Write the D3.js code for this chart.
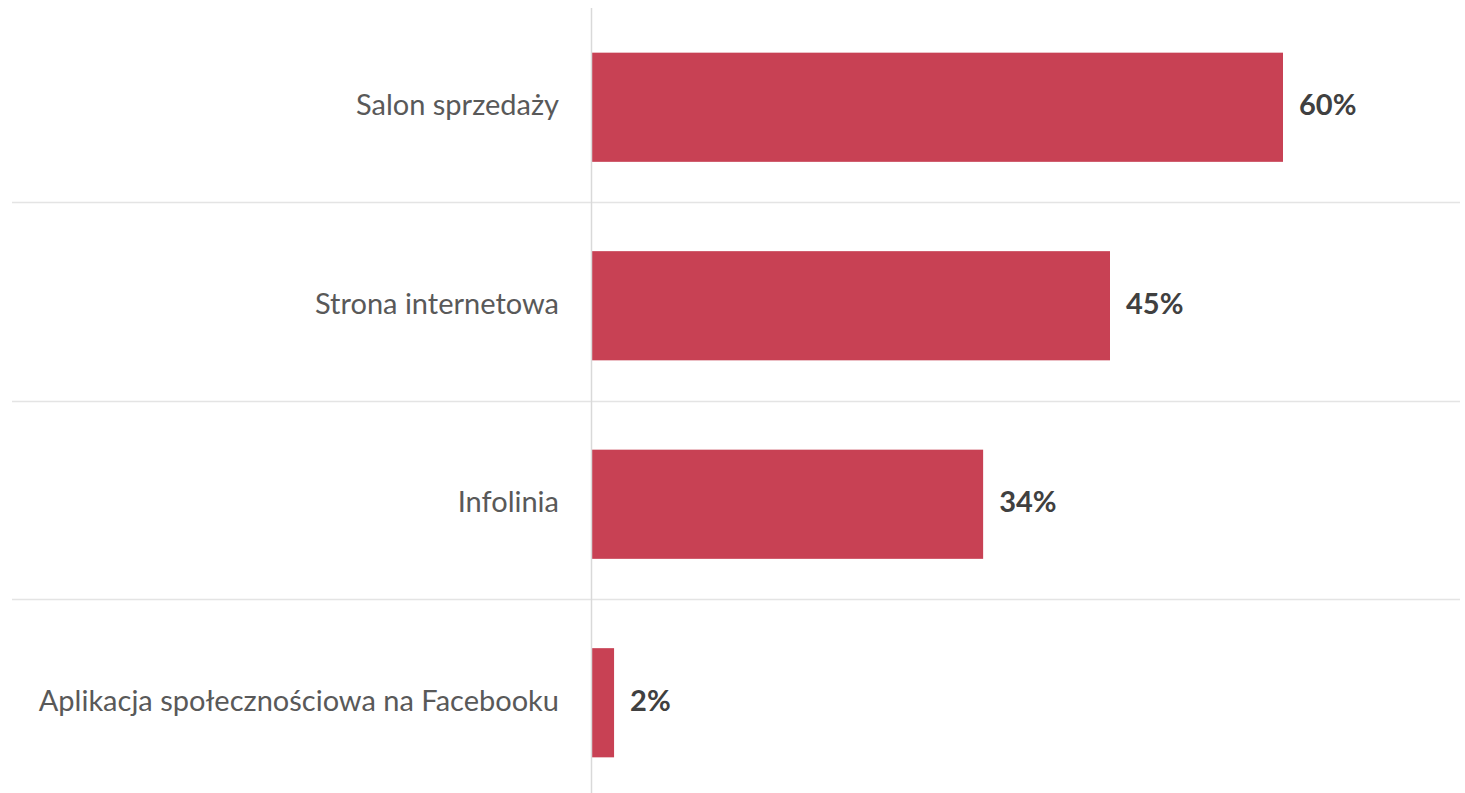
<!DOCTYPE html>
<html>
<head>
<meta charset="utf-8">
<script src="https://cdn.jsdelivr.net/npm/d3@7"></script>
<style>
  html, body { margin: 0; padding: 0; background: #ffffff; }
  svg { display: block; }
</style>
</head>
<body>
<svg id="chart" width="1465" height="793"></svg>
<script>
// Channels and their share of responses (%)
const categories = [
  "Salon sprzedaży",
  "Strona internetowa",
  "Infolinia",
  "Aplikacja społecznościowa na Facebooku"
];
const values = [60, 45, 34, 2];
const valueLabels = ["60%", "45%", "34%", "2%"];

const width = 1465, height = 793;
const axisX = 591;
const fontFamily = "Lato, 'Open Sans', sans-serif";

const svg = d3.select("#chart");

const x = d3.scaleLinear().domain([0, 60]).range([axisX, 1283]);
const y = d3.scaleBand()
  .domain(categories)
  .range([8, 802])
  .paddingInner(0.45)
  .paddingOuter(0.225);

// separator sits in the gap above each bar, a little above the gap's middle
const gap = y.step() - y.bandwidth();
const sepY = d => Math.round(y(d) - gap / 2 - 4.5) + 0.5;

// horizontal separators between rows
svg.append("g")
  .selectAll("line")
  .data(categories.slice(1))
  .join("line")
  .attr("x1", 12)
  .attr("x2", 1460)
  .attr("y1", sepY)
  .attr("y2", sepY)
  .attr("stroke", "#e4e4e4")
  .attr("stroke-width", 1.5);

// bars
svg.append("g")
  .selectAll("rect")
  .data(values)
  .join("rect")
  .attr("x", x(0))
  .attr("y", (d, i) => y(categories[i]))
  .attr("width", d => x(d) - x(0))
  .attr("height", y.bandwidth())
  .attr("fill", "#c84154");

// vertical baseline
svg.append("line")
  .attr("x1", axisX + 0.5)
  .attr("x2", axisX + 0.5)
  .attr("y1", 8)
  .attr("y2", height)
  .attr("stroke", "#d9d9d9")
  .attr("stroke-width", 1.5);

// category labels
svg.append("g")
  .selectAll("text")
  .data(categories)
  .join("text")
  .attr("x", 559)
  .attr("y", d => y(d) + y.bandwidth() / 2)
  .attr("dy", "0.27em")
  .attr("text-anchor", "end")
  .attr("font-family", fontFamily)
  .attr("font-size", 29)
  .attr("fill", "#595959")
  .text(d => d);

// value labels
svg.append("g")
  .selectAll("text")
  .data(values)
  .join("text")
  .attr("x", d => x(d) + 16)
  .attr("y", (d, i) => y(categories[i]) + y.bandwidth() / 2)
  .attr("dy", "0.27em")
  .attr("font-family", fontFamily)
  .attr("font-size", 29)
  .attr("font-weight", "bold")
  .attr("fill", "#404040")
  .text((d, i) => valueLabels[i]);
</script>
</body>
</html>
